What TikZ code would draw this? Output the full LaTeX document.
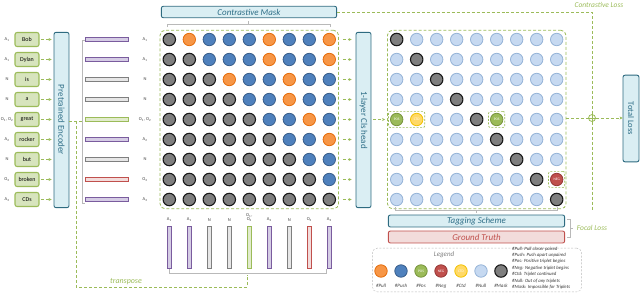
\documentclass[tikz,border=0pt]{standalone}
\usepackage{fontspec}
\setmainfont{Carlito}
\usepackage{tikz}
\usetikzlibrary{arrows.meta,positioning,calc,fit}
\usepackage{xcolor}

\definecolor{tealdk}{HTML}{2E6B80}
\definecolor{tealfill}{HTML}{DAEEF3}
\definecolor{tealtx}{HTML}{2F6E87}
\definecolor{grnln}{HTML}{9BBB59}
\definecolor{tokfill}{HTML}{D7E4BD}
\definecolor{purln}{HTML}{7A5C9E}
\definecolor{purfill}{HTML}{D5CCE4}
\definecolor{gryln}{HTML}{7F7F7F}
\definecolor{gryfill}{HTML}{E6E6E6}
\definecolor{grnfill}{HTML}{E1EBCC}
\definecolor{redln}{HTML}{C0504D}
\definecolor{redfill}{HTML}{F2DCDB}

\newcommand\fsz[1]{\fontsize{#1}{#1}\selectfont}
\newcommand\balltxt[1]{\if p#1POS\fi\if e#1NEG\fi\if c#1CTD\fi}

\begin{document}
\begin{tikzpicture}[x=1bp, y=-1bp, >={Stealth[length=3pt,width=3pt]},
  lbl/.style={font=\fsz{4.5}, text=black!75, inner sep=0, align=center},
  tok/.style={draw=grnln, fill=tokfill, line width=1.1pt, rounded corners=2pt,
    minimum width=24pt, minimum height=14pt, inner sep=0, font=\fsz{6}},
  tbox/.style={draw=tealdk, fill=tealfill, line width=0.9pt, rounded corners=2pt,
    inner sep=0, text=tealtx},
  hbar/.style={minimum width=44pt, minimum height=4.5pt, inner sep=0, line width=1.1pt},
  vbar/.style={minimum width=4.5pt, minimum height=43pt, inner sep=0, line width=1.1pt},
  gdash/.style={draw=grnln, line width=0.9pt, dash pattern=on 3pt off 2pt},
  garr/.style={gdash, ->, shorten >=2pt, shorten <=2pt},
  brk/.style={draw=gray!55, line width=0.8pt},
  frame/.style={draw=grnln, line width=0.8pt, dash pattern=on 3pt off 2pt,
    rounded corners=5pt, inner sep=2.5pt},
  hlbox/.style={draw=grnln, line width=0.7pt, dash pattern=on 2pt off 1.5pt,
    rounded corners=2pt, inner sep=1.5pt},
  ball/.style={circle, inner sep=0, minimum size=12.5pt, line width=0.8pt,
    font=\fsz{3.6}, text=white},
  ballg/.style={ball, fill=gryln, draw=black!90, line width=1.1pt},
  ballo/.style={ball, fill={rgb,255:red,247;green,150;blue,70}, draw={rgb,255:red,228;green,108;blue,10}},
  ballb/.style={ball, fill={rgb,255:red,79;green,129;blue,189}, draw={rgb,255:red,56;green,93;blue,138}},
  balln/.style={ball, fill={rgb,255:red,198;green,217;blue,241}, draw={rgb,255:red,149;green,179;blue,215}},
  ballp/.style={ball, fill=grnln, draw={rgb,255:red,119;green,147;blue,60}},
  balle/.style={ball, fill=redln, draw={rgb,255:red,149;green,55;blue,53}},
  ballc/.style={ball, fill={rgb,255:red,255;green,217;blue,102}, draw={rgb,255:red,242;green,193;blue,0}},
  ]
  \useasboundingbox (0,0) rectangle (640,293);

  % boxes
  \node[tbox, rotate=-90, minimum width=176pt, minimum height=15pt, font=\fsz{9}] (enc) at (61.5,120) {Pretrained Encoder};
  \node[tbox, rotate=-90, minimum width=176pt, minimum height=15pt, font=\fsz{9}] (cls) at (363.5,120) {1-layer Cls head};
  \node[tbox, rotate=-90, minimum width=87pt, minimum height=16pt, font=\fsz{8.5}] (tot) at (631,118.5) {Total Loss};
  \node[tbox, minimum width=176pt, minimum height=11.5pt, font=\fsz{9}\itshape] (cmask) at (249,12) {Contrastive Mask};
  \node[tbox, minimum width=177pt, minimum height=12pt, font=\fsz{9}\itshape] (tag) at (476.5,221) {Tagging Scheme};
  \node[tbox, draw=redln, fill=redfill, text=redln, minimum width=177pt, minimum height=12pt, font=\fsz{9}\itshape] (gt) at (476.5,237) {Ground Truth};

  % tokens, embeddings and transposed embeddings
  \foreach \w/\lb/\vl/\bc [count=\i from 0] in {
      Bob/A\textsubscript{1}/A\textsubscript{1}/pur,
      Dylan/A\textsubscript{1}/A\textsubscript{1}/pur,
      is/N/N/gry,
      a/N/N/gry,
      great/{O\textsubscript{1}, O\textsubscript{2}}/{O\textsubscript{1},\\O\textsubscript{2}}/grn,
      rocker/A\textsubscript{2}/A\textsubscript{2}/pur,
      but/N/N/gry,
      broken/O\textsubscript{3}/O\textsubscript{3}/red,
      CDs/A\textsubscript{3}/A\textsubscript{3}/pur} {
    \node[lbl] (a\i) at (7,{39.5+20*\i}) {\lb};
    \node[tok] (t\i) at (27,{39.5+20*\i}) {\w};
    \draw[garr] (t\i) -- (t\i -| enc.south);
    \node[hbar, draw=\bc ln, fill=\bc fill] (h\i) at (107,{39.5+20*\i}) {};
    \node[lbl] (b\i) at (145,{39.5+20*\i}) {\lb};
    \node[vbar, draw=\bc ln, fill=\bc fill] (v\i) at ({169.3+20*\i},247.5) {};
    \node[lbl, above=3.5pt of v\i] (c\i) {\vl};
  }

  % contrastive mask grid
  \foreach \row [count=\r from 0] in {{g,o,b,b,b,o,b,b,o},{g,g,b,b,b,o,b,b,o},
      {g,g,g,o,b,b,o,b,b},{g,g,g,g,b,b,o,b,b},{g,g,g,g,g,b,b,o,b},
      {g,g,g,g,g,g,b,b,o},{g,g,g,g,g,g,g,b,b},{g,g,g,g,g,g,g,g,b},
      {g,g,g,g,g,g,g,g,g}}
    \foreach \k [count=\j from 0] in \row
      \node[ball\k] (L-\r-\j) at ({169.3+20*\j},{39.5+20*\r}) {};
  \node[frame, fit=(L-0-0)(L-8-8)] (lgrid) {};

  % tagging grid
  \foreach \row [count=\r from 0] in {{g,n,n,n,n,n,n,n,n},{n,g,n,n,n,n,n,n,n},
      {n,n,g,n,n,n,n,n,n},{n,n,n,g,n,n,n,n,n},{p,c,n,n,g,p,n,n,n},
      {n,n,n,n,n,g,n,n,n},{n,n,n,n,n,n,g,n,n},{n,n,n,n,n,n,n,g,e},
      {n,n,n,n,n,n,n,n,g}}
    \foreach \k [count=\j from 0] in \row
      \node[ball\k] (R-\r-\j) at ({396.7+20*\j},{39.5+20*\r}) {\balltxt{\k}};
  \node[frame, fit=(R-0-0)(R-8-8)] (rgrid) {};
  \node[hlbox, fit=(R-4-0)(R-4-1)] (hlA) {};
  \node[hlbox, fit=(R-4-5)] (hlB) {};
  \node[hlbox, fit=(R-7-8)] (hlC) {};

  % brackets
  \draw[brk] (85,40) -- (82,40) -- (82,203) -- (85,203);
  \draw[brk] (167,27) -- (167,24) -- (330,24) -- (330,27) (248,24) -- (248,21);
  \draw[brk] (169,269) -- (169,273) -- (326,273) -- (326,269);
  \draw[brk] (395,207) -- (395,210) -- (557,210) -- (557,207) (476.5,210) -- (476.5,213);
  \draw[brk] (567,219) -- (570,219) -- (570,237) -- (567,237) (570,228) -- (573,228);

  % flow
  \coordinate (lbr) at (82,121);
  \coordinate (jt) at (76,121);
  \coordinate (bbr) at (247,275);
  \coordinate (fl) at (592,211);
  \node[draw=grnln, circle, minimum size=7pt, inner sep=0, line width=0.8pt] (sum) at (592,118) {};
  \draw[grnln, line width=0.8pt] (sum.north) -- (sum.south) (sum.west) -- (sum.east);

  \draw[gdash] (enc.north |- lbr) -- (lbr);
  \draw[gdash] (jt) |- ($(bbr)+(0,12)$) -- (bbr);
  \foreach \r in {0,...,8}
    \draw[garr, shorten <=4pt, shorten >=4pt] (lgrid.east |- L-\r-8) -- (cls.south |- L-\r-8);
  \draw[garr] (cls.north |- R-4-0) -- (rgrid.west |- R-4-0);
  \draw[gdash] (cmask) -| (sum);
  \draw[gdash] (rgrid.east |- sum) -- (sum);
  \draw[gdash] (sum) -- (fl);
  \draw[gdash, ->] (sum) -- (tot.south |- sum);

  \node[font=\fsz{8}\itshape, text=grnln] (trl) at (126,282) {transpose};
  \node[font=\fsz{7.5}\itshape, text=grnln] (cll) at (599,5) {Contrastive Loss};
  \node[font=\fsz{7.5}\itshape, text=grnln] (fll) at (592,228) {Focal Loss};

  % legend
  \node[draw=gray!55, dash pattern=on 2pt off 1.5pt, rounded corners=5pt, minimum width=210pt, minimum height=44pt] (leg) at (477,270) {};
  \node[font=\fsz{7}\itshape, text=gray] (legt) at (444,255) {Legend};
  \foreach \k/\t [count=\j from 0] in {o/Pull,b/Push,p/Pos,e/Neg,c/Ctd,n/Null,g/Mask} {
    \node[ball\k] (lg\j) at ({381+20*\j},271) {\balltxt{\k}};
    \node[font=\fsz{5}\itshape, text=black!75, below=3pt of lg\j] (lt\j) {\#\t};
  }
  \node[anchor=north west, align=left, inner sep=0, text=black!80,
    font=\fontsize{4.8}{6.5}\selectfont\itshape] (desc) at (512,246.5) {%
    \#Pull: Pull closer paired\\
    \#Push: Push apart unpaired\\
    \#Pos: Positive triplet begins\\
    \#Neg: Negative triplet begins\\
    \#Ctd: Triplet continued\\
    \#Null: Out of any triplets\\
    \#Mask: Impossible for Triplets};
\end{tikzpicture}
\end{document}
